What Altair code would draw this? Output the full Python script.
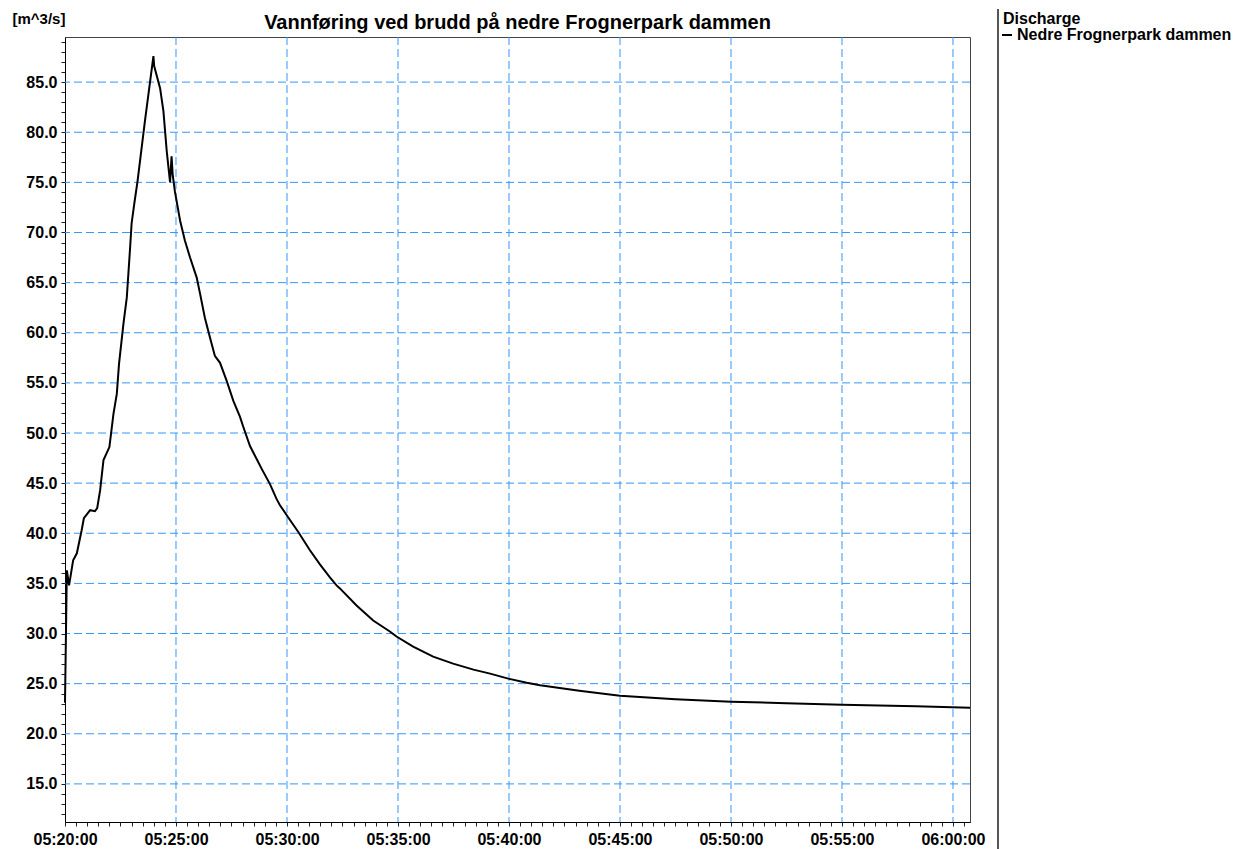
import altair as alt
import pandas as pd

# seconds after 05:20:00 and discharge [m^3/s]
seconds = [0, 5, 11, 22, 32, 45, 51, 68, 81, 87, 95, 104, 120, 131, 140, 146, 158, 167,
           176, 180, 187, 196, 216, 239, 241, 257, 266, 275, 284, 288, 291, 297, 311, 324,
           338, 356, 365, 378, 392, 405, 419, 437, 455, 473, 482, 500, 518, 532, 554, 572,
           581, 603, 631, 662, 689, 716, 734, 743, 788, 833, 878, 896, 941, 968, 995, 1049,
           1104, 1149, 1198, 1248, 1284, 1390, 1500, 1650, 1800, 1950, 2100, 2300, 2446]
discharge = [23.1, 36.3, 34.8, 37.3, 38.0, 40.3, 41.5, 42.3, 42.2, 42.5, 44.3, 47.3, 48.6,
             51.9, 53.9, 56.9, 60.9, 63.5, 68.5, 70.9, 72.8, 75.1, 81.1, 87.6, 86.6, 84.4,
             82.1, 78.1, 75.0, 77.6, 75.8, 74.1, 71.2, 69.2, 67.5, 65.5, 63.9, 61.5, 59.5,
             57.7, 57.0, 55.2, 53.2, 51.6, 50.6, 48.7, 47.4, 46.4, 44.9, 43.4, 42.8, 41.6,
             40.1, 38.3, 36.9, 35.6, 34.8, 34.5, 32.8, 31.3, 30.2, 29.7, 28.7, 28.2, 27.7,
             27.0, 26.4, 26.0, 25.5, 25.1, 24.85, 24.3, 23.8, 23.45, 23.2, 23.05, 22.9, 22.75,
             22.6]
series = ["Nedre Frognerpark dammen"]
grid_minutes = [5, 10, 15, 20, 25, 30, 35, 40]          # minutes after 05:20:00
grid_values = [15, 20, 25, 30, 35, 40, 45, 50, 55, 60, 65, 70, 75, 80, 85]

start = pd.Timestamp("2000-01-01 05:20:00")


def iso(sec):
    return (start + pd.Timedelta(seconds=sec)).strftime("%Y-%m-%dT%H:%M:%SZ")


df = pd.DataFrame({"t": [iso(s) for s in seconds], "q": discharge, "s": series[0]})
gx = pd.DataFrame({"t": [iso(m * 60) for m in grid_minutes]})
gy = pd.DataFrame({"q": grid_values})

T0 = 946704000000  # 2000-01-01T05:20:00Z in ms
x_vals = [T0 + i * 30000 for i in range(0, 82)]
y_vals = list(range(12, 90))

FONT = "Liberation Sans"
GRID = "#3596ff"
DASH = [8, 4]

x_scale = alt.Scale(type="utc", nice=False,
                    domain=[alt.DateTime(year=2000, month=1, date=1, hours=5, minutes=20, seconds=0, utc=True),
                            alt.DateTime(year=2000, month=1, date=1, hours=6, minutes=0, seconds=46, utc=True)])
y_scale = alt.Scale(domain=[11.2, 89.5], nice=False, zero=False)

x_axis = alt.Axis(
    values=x_vals, format="%H:%M:%S", title=None, grid=False,
    labelExpr=f"(datum.value - {T0}) % 300000 == 0 ? utcFormat(datum.value, '%H:%M:%S') : ''",
    labelFont=FONT, labelFontSize=16, labelFontWeight="bold", labelColor="black",
    labelPadding=5, labelFlush=False, labelOverlap=False,
    tickSize=4, tickColor="#222", domainColor="black", domainWidth=1,
)

y_axis = alt.Axis(
    values=y_vals, title="[m^3/s]", grid=False,
    labelExpr="datum.value % 5 == 0 ? format(datum.value, '.1f') : ''",
    labelFont=FONT, labelFontSize=16, labelFontWeight="bold", labelColor="black",
    labelPadding=4, labelOverlap=False,
    tickSize=4, tickColor="#222", domainColor="black", domainWidth=1,
    titleFont=FONT, titleFontSize=15, titleFontWeight="bold", titleColor="black",
    titleAngle=0, titleAlign="left", titleBaseline="middle", titleX=-53, titleY=-19,
)

grid_x = alt.Chart(gx).mark_rule(color=GRID, strokeWidth=1, strokeDash=DASH).encode(
    x=alt.X("t:T", scale=x_scale, axis=x_axis)
)
grid_y = alt.Chart(gy).mark_rule(color=GRID, strokeWidth=1, strokeDash=DASH).encode(
    y=alt.Y("q:Q", scale=y_scale, axis=y_axis)
)

line = alt.Chart(df).mark_line(strokeWidth=2, interpolate="linear").encode(
    x=alt.X("t:T", axis=x_axis, scale=x_scale),
    y=alt.Y("q:Q", axis=y_axis, scale=y_scale),
    color=alt.Color("s:N", scale=alt.Scale(domain=series, range=["black"]),
                    legend=alt.Legend(title="Discharge", orient="none", legendX=938, legendY=-26,
                                      symbolType="stroke", symbolSize=100, symbolStrokeWidth=2,
                                      symbolOffset=-4,
                                      titleFont=FONT, titleFontSize=16, titleFontWeight="bold",
                                      titleColor="black", titlePadding=0, labelLimit=0,
                                      labelFont=FONT, labelFontSize=16, labelFontWeight="bold",
                                      labelColor="black", labelOffset=2, padding=0)),
)

sep = alt.Chart(gy).mark_rule(color="#555", strokeWidth=2).encode(
    x=alt.value(933), y=alt.value(-28), y2=alt.value(812)
)

chart = alt.layer(grid_x, grid_y, line, sep).properties(
    width=905, height=785, padding={"left": 4, "top": 0, "right": 0, "bottom": 0},
    title=alt.TitleParams("Vannføring ved brudd på nedre Frognerpark dammen",
                          font=FONT, fontSize=20, fontWeight="bold", color="black",
                          anchor="middle", frame="group", offset=0, dy=25),
).configure_view(stroke="#444", strokeWidth=1)

chart.save("out.html", embed_options={"renderer": "svg", "actions": False})
